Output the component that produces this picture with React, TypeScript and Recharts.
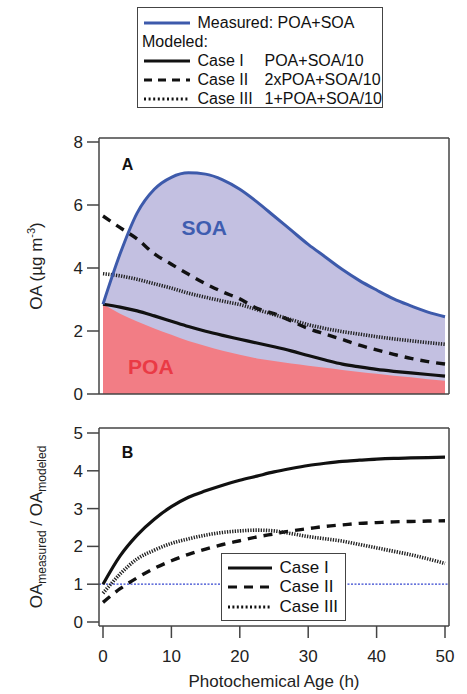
import { ComposedChart, Line, Area, XAxis, YAxis, ReferenceLine, ReferenceDot, Legend } from 'recharts'

// photochemical age (h)
const age = [0, 2.5, 5, 7.5, 10, 12.5, 15, 17.5, 20, 22.5, 25, 27.5, 30, 32.5, 35, 37.5, 40, 42.5, 45, 47.5, 50]

// panel A: OA (ug m-3)
const measured = [2.85, 4.45, 5.75, 6.5, 6.88, 7.02, 6.98, 6.8, 6.5, 6.1, 5.65, 5.2, 4.75, 4.35, 3.95, 3.6, 3.3, 3.02, 2.8, 2.6, 2.45]
const poa = [2.85, 2.55, 2.3, 2.08, 1.88, 1.68, 1.52, 1.37, 1.25, 1.13, 1.05, 0.97, 0.9, 0.83, 0.76, 0.7, 0.64, 0.58, 0.53, 0.47, 0.42]
const oaCaseI = [2.85, 2.76, 2.64, 2.48, 2.31, 2.14, 1.99, 1.86, 1.74, 1.62, 1.5, 1.37, 1.22, 1.08, 0.95, 0.86, 0.78, 0.72, 0.67, 0.62, 0.57]
const oaCaseII = [5.65, 5.28, 4.92, 4.45, 4.12, 3.8, 3.5, 3.24, 3.02, 2.72, 2.55, 2.32, 2.08, 1.9, 1.73, 1.55, 1.4, 1.26, 1.13, 1.03, 0.95]
const oaCaseIII = [3.82, 3.75, 3.64, 3.5, 3.36, 3.2, 3.07, 2.95, 2.84, 2.68, 2.52, 2.36, 2.2, 2.08, 1.98, 1.9, 1.82, 1.75, 1.69, 1.63, 1.58]

// panel B: OA measured / OA modeled
const ratioCaseI = [1.0, 1.75, 2.3, 2.72, 3.05, 3.3, 3.47, 3.62, 3.75, 3.86, 3.97, 4.06, 4.14, 4.2, 4.25, 4.28, 4.31, 4.33, 4.34, 4.35, 4.36]
const ratioCaseII = [0.52, 0.88, 1.17, 1.42, 1.62, 1.79, 1.93, 2.05, 2.15, 2.25, 2.33, 2.41, 2.47, 2.53, 2.57, 2.61, 2.63, 2.65, 2.66, 2.67, 2.68]
const ratioCaseIII = [0.76, 1.27, 1.67, 1.9, 2.08, 2.2, 2.3, 2.37, 2.41, 2.43, 2.41, 2.34, 2.26, 2.2, 2.14, 2.05, 1.96, 1.87, 1.78, 1.67, 1.55]

const ageTicks = [0, 10, 20, 30, 40, 50]
const oaTicks = [0, 2, 4, 6, 8]
const ratioTicks = [0, 1, 2, 3, 4, 5]

const panelA = age.map((h, i) => ({
    h,
    measured: measured[i],
    poa: poa[i],
    caseI: oaCaseI[i],
    caseII: oaCaseII[i],
    caseIII: oaCaseIII[i],
}))

const panelB = age.map((h, i) => ({
    h,
    caseI: ratioCaseI[i],
    caseII: ratioCaseII[i],
    caseIII: ratioCaseIII[i],
}))

const FONT = '"Liberation Sans", Arial, Helvetica, sans-serif'
const FRAME = '#444'
const BLUE = '#3d5aab'
const SOA_FILL = '#c3c0e1'
const POA_FILL = '#f27d85'

const notesA = [
    { text: 'A', h: 3.6, y: 7.29, color: '#111', size: 16 },
    { text: 'SOA', h: 14.8, y: 5.29, color: '#3f5db0', size: 21 },
    { text: 'POA', h: 7.0, y: 0.87, color: '#ea3a45', size: 21 },
]
const notesB = [{ text: 'B', h: 3.6, y: 4.48, color: '#111', size: 16 }]

const styles = {
    solid: { dash: undefined, width: 3.2 },
    dashed: { dash: '9 7', width: 3.4 },
    dotted: { dash: '1.3 1.3', width: 3.6 },
}

const axisLine = { stroke: FRAME, strokeWidth: 1.5 }
const tickLine = { stroke: FRAME, strokeWidth: 1.5 }
const tickText = { fontSize: 17, fill: '#222', fontFamily: FONT }

function Sample({ color = '#111', dash, width, len = 46 }: { color?: string; dash?: string; width: number; len?: number }) {
    return (
        <svg width={len} height={8} style={{ position: 'absolute', left: 0, top: 6 }}>
            <line x1={0} x2={len} y1={4} y2={4} stroke={color} strokeWidth={width} strokeDasharray={dash} />
        </svg>
    )
}

const topRows = [
    { label: 'Measured: POA+SOA', formula: '', color: BLUE, line: { dash: undefined, width: 3 } },
    { label: 'Case I', formula: 'POA+SOA/10', color: '#111', line: { dash: undefined, width: 3 } },
    { label: 'Case II', formula: '2xPOA+SOA/10', color: '#111', line: { dash: '8 6', width: 3 } },
    { label: 'Case III', formula: '1+POA+SOA/10', color: '#111', line: { dash: '2 2.6', width: 3 } },
]

function TopLegend() {
    const rowTop = [4.5, 43, 62, 80.5]
    return (
        <div style={{ position: 'relative', width: 246, height: 101, boxSizing: 'border-box', border: `1.5px solid ${FRAME}`, background: '#fff', fontFamily: FONT, fontSize: 16, color: '#111', lineHeight: '20px' }}>
            <div style={{ position: 'absolute', left: 4, top: 23.5 }}>Modeled:</div>
            {topRows.map((r, i) => (
                <div key={r.label} style={{ position: 'absolute', left: 5.5, top: rowTop[i], width: 236, height: 20 }}>
                    <Sample color={r.color} dash={r.line.dash} width={r.line.width} />
                    <span style={{ position: 'absolute', left: 54, whiteSpace: 'nowrap' }}>{r.label}</span>
                    {r.formula && <span style={{ position: 'absolute', left: 121, whiteSpace: 'nowrap' }}>{r.formula}</span>}
                </div>
            ))}
        </div>
    )
}

const caseRows = [
    { label: 'Case I', line: styles.solid },
    { label: 'Case II', line: { dash: '9 7', width: 3.2 } },
    { label: 'Case III', line: { dash: '2 2.4', width: 3.2 } },
]

function CaseLegend() {
    const rowTop = [3.5, 23, 42.5]
    return (
        <div style={{ position: 'relative', width: 125, height: 68, boxSizing: 'border-box', border: `1.5px solid ${FRAME}`, background: '#fff', fontFamily: FONT, fontSize: 17, color: '#111', lineHeight: '20px' }}>
            {caseRows.map((r, i) => (
                <div key={r.label} style={{ position: 'absolute', left: 5.5, top: rowTop[i], width: 115, height: 20 }}>
                    <Sample dash={r.line.dash} width={r.line.width} len={44} />
                    <span style={{ position: 'absolute', left: 52, whiteSpace: 'nowrap' }}>{r.label}</span>
                </div>
            ))}
        </div>
    )
}

function OATitle({ viewBox }: any) {
    const cx = 42
    const cy = viewBox ? viewBox.y + viewBox.height / 2 : 266
    return (
        <text x={cx} y={cy} transform={`rotate(-90, ${cx}, ${cy})`} textAnchor="middle" fontFamily={FONT} fontSize={17} fill="#222">
            OA (µg m<tspan dy={-7} fontSize={11}>-3</tspan><tspan dy={7}>)</tspan>
        </text>
    )
}

function RatioTitle({ viewBox }: any) {
    const cx = 42
    const cy = viewBox ? viewBox.y + viewBox.height / 2 : 127
    return (
        <text x={cx} y={cy} transform={`rotate(-90, ${cx}, ${cy})`} textAnchor="middle" fontFamily={FONT} fontSize={17} fill="#222">
            OA<tspan dy={4} fontSize={12}>measured</tspan>
            <tspan dy={-4}> / OA</tspan>
            <tspan dy={4} fontSize={12}>modeled</tspan>
        </text>
    )
}

function AgeTitle({ viewBox }: any) {
    const cx = viewBox ? viewBox.x + viewBox.width / 2 : 274
    const y = viewBox ? viewBox.y + 61 : 287
    return (
        <text x={cx} y={y} textAnchor="middle" fontFamily={FONT} fontSize={17} fill="#222">
            Photochemical Age (h)
        </text>
    )
}

export default function App() {
    return (
        <div style={{ position: 'relative', width: 467, height: 694, background: '#fff', fontFamily: FONT }}>
            <style>{'body{margin:0}'}</style>
            <div style={{ position: 'absolute', left: 0, top: 0 }}>
                <ComposedChart width={467} height={412} data={panelA} margin={{ top: 126, right: 6, bottom: 0, left: 0 }}>
                    <XAxis xAxisId={0} dataKey="h" type="number" domain={[0, 50]} ticks={ageTicks} interval={0} padding={{ left: 4, right: 4 }} height={18} tickSize={12} tick={false} axisLine={axisLine} tickLine={tickLine} />
                    <XAxis xAxisId="top" orientation="top" type="number" domain={[0, 50]} ticks={ageTicks} interval={0} padding={{ left: 4, right: 4 }} height={12} tickSize={12} tick={false} axisLine={axisLine} tickLine={tickLine} />
                    <YAxis yAxisId={0} type="number" domain={[0, 8]} ticks={oaTicks} interval={0} padding={{ top: 4, bottom: 0 }} width={99} tickSize={12} tickMargin={4} tick={tickText} axisLine={axisLine} tickLine={tickLine} label={<OATitle />} />
                    <YAxis yAxisId="right" orientation="right" type="number" domain={[0, 8]} ticks={oaTicks} interval={0} padding={{ top: 4, bottom: 0 }} width={12} tickSize={12} tick={false} axisLine={axisLine} tickLine={tickLine} />
                    <Area dataKey="measured" type="monotone" fill={SOA_FILL} fillOpacity={1} stroke="none" isAnimationActive={false} activeDot={false} />
                    <Area dataKey="poa" type="monotone" fill={POA_FILL} fillOpacity={1} stroke="none" isAnimationActive={false} activeDot={false} />
                    <Line dataKey="caseII" type="monotone" stroke="#111" strokeWidth={styles.dashed.width} strokeDasharray={styles.dashed.dash} dot={false} activeDot={false} isAnimationActive={false} />
                    <Line dataKey="caseIII" type="monotone" stroke="#222" strokeWidth={styles.dotted.width} strokeDasharray={styles.dotted.dash} dot={false} activeDot={false} isAnimationActive={false} />
                    <Line dataKey="caseI" type="monotone" stroke="#111" strokeWidth={styles.solid.width} dot={false} activeDot={false} isAnimationActive={false} />
                    <Line dataKey="measured" type="monotone" stroke={BLUE} strokeWidth={3} dot={false} activeDot={false} isAnimationActive={false} />
                    {notesA.map((n) => (
                        <ReferenceDot key={n.text} x={n.h} y={n.y} r={0} stroke="none" isFront
                            label={{ value: n.text, position: 'center', fill: n.color, fontSize: n.size, fontWeight: 'bold', fontFamily: FONT }} />
                    ))}
                    <Legend layout="horizontal" verticalAlign="middle" align="center" content={() => <TopLegend />}
                        wrapperStyle={{ top: 7, left: 137, width: 246, height: 101 }} />
                </ComposedChart>
            </div>
            <div style={{ position: 'absolute', left: 0, top: 400 }}>
                <ComposedChart width={467} height={294} data={panelB} margin={{ top: 16, right: 6, bottom: 0, left: 0 }}>
                    <XAxis xAxisId={0} dataKey="h" type="number" domain={[0, 50]} ticks={ageTicks} interval={0} padding={{ left: 4, right: 4 }} height={68} tickSize={12} tickMargin={12} tick={tickText} axisLine={axisLine} tickLine={tickLine} label={<AgeTitle />} />
                    <XAxis xAxisId="top" orientation="top" type="number" domain={[0, 50]} ticks={ageTicks} interval={0} padding={{ left: 4, right: 4 }} height={12} tickSize={12} tick={false} axisLine={axisLine} tickLine={tickLine} />
                    <YAxis yAxisId={0} type="number" domain={[0, 5]} ticks={ratioTicks} interval={0} padding={{ top: 5, bottom: 4 }} width={99} tickSize={12} tickMargin={4} tick={tickText} axisLine={axisLine} tickLine={tickLine} label={<RatioTitle />} />
                    <YAxis yAxisId="right" orientation="right" type="number" domain={[0, 5]} ticks={ratioTicks} interval={0} padding={{ top: 5, bottom: 4 }} width={12} tickSize={12} tick={false} axisLine={axisLine} tickLine={tickLine} />
                    <ReferenceLine y={1} stroke="#3446d0" strokeWidth={1.2} strokeDasharray="2 1.5" />
                    <Line dataKey="caseII" type="monotone" stroke="#111" strokeWidth={styles.dashed.width} strokeDasharray={styles.dashed.dash} dot={false} activeDot={false} isAnimationActive={false} />
                    <Line dataKey="caseIII" type="monotone" stroke="#222" strokeWidth={styles.dotted.width} strokeDasharray={styles.dotted.dash} dot={false} activeDot={false} isAnimationActive={false} />
                    <Line dataKey="caseI" type="monotone" stroke="#111" strokeWidth={styles.solid.width} dot={false} activeDot={false} isAnimationActive={false} />
                    {notesB.map((n) => (
                        <ReferenceDot key={n.text} x={n.h} y={n.y} r={0} stroke="none" isFront
                            label={{ value: n.text, position: 'center', fill: n.color, fontSize: n.size, fontWeight: 'bold', fontFamily: FONT }} />
                    ))}
                    <Legend layout="horizontal" verticalAlign="middle" align="center" content={() => <CaseLegend />}
                        wrapperStyle={{ top: 153, left: 221, width: 125, height: 68 }} />
                </ComposedChart>
            </div>
        </div>
    )
}
